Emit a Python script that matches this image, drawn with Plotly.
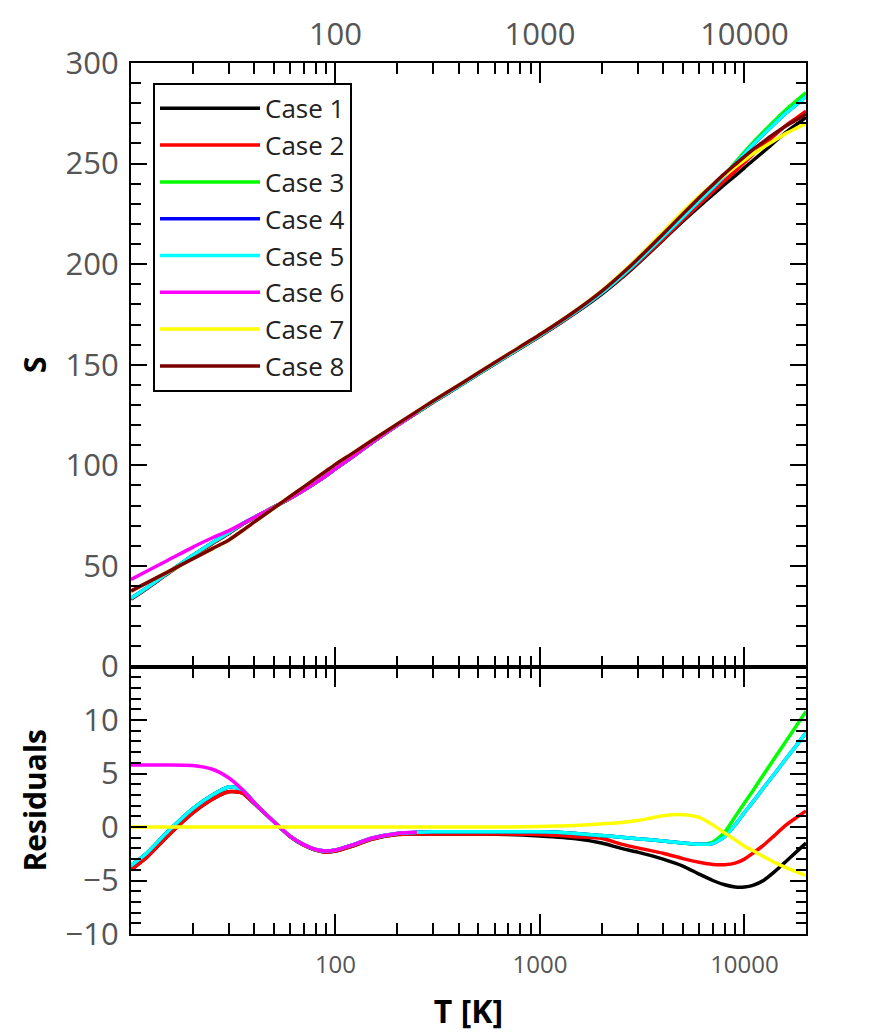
import math
import plotly.graph_objects as go

# ---------------- data ----------------
T = [10, 12, 15, 20, 25, 30, 35, 40, 50, 60, 70, 80, 90, 100, 120, 150, 200, 250,
     300, 400, 500, 700, 1000, 1500, 2000, 2500, 3000, 4000, 5000, 6000, 7000,
     8000, 9000, 10000, 11000, 12500, 14000, 16000, 18000, 20000]

# reference curve (Case 8) entropy S
S_case8 = [37.5, 41.7, 46.8, 53.5, 58.6, 62.8, 67.5, 71.8, 78.8, 84.5, 89.3, 93.5, 97.2, 100.5,
           105.7, 112.2, 120.5, 126.8, 132.0, 139.8, 146.0, 155.3, 165.0, 177.0, 186.5, 195.0,
           202.5, 215.0, 225.0, 233.0, 239.5, 245.0, 249.5, 253.5, 257.0, 261.2, 264.8, 268.8,
           271.8, 274.5]

# residuals of each case relative to Case 8
res_case1 = [-4.0, -2.8, -0.9, 1.3, 2.6, 3.3, 3.2, 2.2, 0.5, -0.9, -1.7, -2.15, -2.35, -2.25,
             -1.8, -1.15, -0.7, -0.65, -0.65, -0.65, -0.65, -0.7, -0.85, -1.1, -1.5, -2.0,
             -2.35, -3.0, -3.65, -4.4, -5.0, -5.4, -5.6, -5.6, -5.45, -4.95, -4.2, -3.2, -2.3, -1.5]
res_case2 = [-4.0, -2.8, -0.9, 1.3, 2.6, 3.3, 3.2, 2.2, 0.5, -0.9, -1.7, -2.15, -2.35, -2.25,
             -1.8, -1.15, -0.7, -0.65, -0.65, -0.65, -0.65, -0.65, -0.7, -0.9, -1.05, -1.6,
             -1.95, -2.45, -2.95, -3.3, -3.5, -3.52, -3.38, -3.0, -2.45, -1.65, -0.8, 0.2, 0.9, 1.5]
res_case3 = [-3.6, -2.4, -0.5, 1.7, 3.0, 3.75, 3.5, 2.3, 0.5, -0.85, -1.65, -2.1, -2.25, -2.15,
             -1.7, -1.05, -0.6, -0.5, -0.45, -0.45, -0.45, -0.45, -0.45, -0.6, -0.8, -0.95,
             -1.1, -1.3, -1.5, -1.62, -1.4, -0.5, 0.95, 2.25, 3.4, 5.0, 6.4, 8.05, 9.5, 10.8]
res_case4 = [-3.6, -2.4, -0.5, 1.7, 3.0, 3.75, 3.5, 2.3, 0.5, -0.85, -1.65, -2.1, -2.25, -2.15,
             -1.7, -1.05, -0.6, -0.5, -0.45, -0.45, -0.45, -0.45, -0.45, -0.6, -0.8, -0.95,
             -1.1, -1.3, -1.5, -1.62, -1.55, -0.9, 0.2, 1.35, 2.35, 3.75, 4.95, 6.4, 7.65, 8.8]
res_case5 = [-3.6, -2.4, -0.5, 1.7, 3.0, 3.75, 3.5, 2.3, 0.5, -0.85, -1.65, -2.1, -2.25, -2.15,
             -1.7, -1.05, -0.6, -0.5, -0.45, -0.45, -0.45, -0.45, -0.45, -0.6, -0.8, -0.95,
             -1.1, -1.3, -1.5, -1.62, -1.55, -0.9, 0.2, 1.35, 2.35, 3.75, 4.95, 6.4, 7.65, 8.8]
res_case6 = [5.8, 5.8, 5.8, 5.75, 5.4, 4.6, 3.5, 2.3, 0.5, -0.85, -1.65, -2.1, -2.25, -2.15,
             -1.7, -1.05, -0.6, -0.5, None, None, None, None, None, None, None, None, None,
             None, None, None, None, None, None, None, None, None, None, None, None, None]
res_case7 = [0.0, 0.0, 0.0, 0.0, 0.0, 0.0, 0.0, 0.0, 0.0, 0.0, 0.0, 0.0, 0.0, 0.0, 0.0, 0.0,
             0.0, 0.0, 0.0, 0.0, 0.0, 0.0, 0.05, 0.15, 0.3, 0.42, 0.6, 1.05, 1.15, 0.9, 0.2,
             -0.55, -1.2, -1.8, -2.2, -2.8, -3.3, -3.8, -4.2, -4.55]

case_names = ["Case 1", "Case 2", "Case 3", "Case 4", "Case 5", "Case 6", "Case 7", "Case 8"]
case_colors = ["#000000", "#ff0000", "#00ff00", "#0000ff", "#00ffff", "#ff00ff", "#ffff00", "#7a0000"]
residuals = [res_case1, res_case2, res_case3, res_case4, res_case5, res_case6, res_case7, None]

x_major = [100, 1000, 10000]
x_minor = [20, 30, 40, 50, 60, 70, 80, 90, 200, 300, 400, 500, 600, 700, 800, 900,
           2000, 3000, 4000, 5000, 6000, 7000, 8000, 9000]
s_ticks = [0, 50, 100, 150, 200, 250, 300]
r_ticks = [-10, -5, 0, 5, 10]

# ---------------- figure ----------------
FONT = "Open Sans"
LW = 3.5
fig = go.Figure()
for name, color, res in zip(case_names, case_colors, residuals):
    if res is None:
        S = S_case8
    else:
        S = [s + r if r is not None else None for s, r in zip(S_case8, res)]
    fig.add_trace(go.Scatter(x=T, y=S, xaxis="x2", yaxis="y", mode="lines", name=name,
                             legendgroup=name,
                             line=dict(color=color, width=LW, shape="spline", smoothing=0.6)))
    if res is not None:
        fig.add_trace(go.Scatter(x=T, y=res, xaxis="x", yaxis="y2", mode="lines", name=name,
                                 legendgroup=name, showlegend=False,
                                 line=dict(color=color, width=LW, shape="spline", smoothing=0.6)))

W, H = 886, 1036
L, R, TOP, B = 131, 80, 60, 100
plot_h = H - TOP - B
split = 269 / plot_h
xr = [1, math.log10(20000)]

tick_color = "#555555"
common_x = dict(type="log", range=xr, tickvals=x_major, ticktext=[str(v) for v in x_major],
                ticks="inside", ticklen=20, tickwidth=2, tickcolor="black",
                showline=True, linecolor="black", linewidth=2, mirror="ticks",
                showgrid=False, zeroline=False,
                minor=dict(tickvals=x_minor, ticks="inside", ticklen=11, tickwidth=1.5,
                           tickcolor="black", showgrid=False))
common_y = dict(ticks="inside", ticklen=16, tickwidth=2, tickcolor="black",
                showline=True, linecolor="black", linewidth=2,
                showgrid=False, zeroline=False)

fig.update_layout(
    width=W, height=H,
    margin=dict(l=L, r=R, t=TOP, b=B, pad=0),
    plot_bgcolor="white", paper_bgcolor="white",
    font=dict(family=FONT, color="#333333"),
    xaxis=dict(**common_x, anchor="y2", domain=[0, 1], side="bottom",
               tickfont=dict(size=24, color=tick_color), ticklabelstandoff=8,
               title=dict(text="<b>T [K]</b>", font=dict(size=32, color="black"), standoff=22)),
    xaxis2=dict(**common_x, anchor="y", matches="x", side="top",
                tickfont=dict(size=31, color=tick_color), ticklabelstandoff=4),
    yaxis=dict(**common_y, domain=[split, 1], range=[0, 300], anchor="x2", side="left",
               mirror="ticks", tickvals=s_ticks,
               minor=dict(dtick=10, ticks="inside", ticklen=10, tickwidth=1.5, tickcolor="black"),
               tickfont=dict(size=31, color=tick_color), ticklabelstandoff=4,
               title=dict(text="<b>S</b>", font=dict(size=30, color="black"), standoff=10)),
    yaxis2=dict(**common_y, domain=[0, split], range=[-10, 15], anchor="x", side="left",
                mirror="ticks", tickvals=r_ticks,
                minor=dict(dtick=1, ticks="inside", ticklen=10, tickwidth=1.5, tickcolor="black"),
                tickfont=dict(size=31, color=tick_color), ticklabelstandoff=4,
                title=dict(text="<b>Residuals</b>", font=dict(size=30, color="black"), standoff=10)),
    yaxis3=dict(overlaying="y", side="right", anchor="x2", range=[0, 300], tickvals=s_ticks,
                ticks="", showline=False, showgrid=False, zeroline=False,
                tickfont=dict(size=31, color=tick_color), ticklabelstandoff=12),
    yaxis4=dict(overlaying="y2", side="right", anchor="x", range=[-10, 15], tickvals=r_ticks,
                ticks="", showline=False, showgrid=False, zeroline=False,
                tickfont=dict(size=31, color=tick_color), ticklabelstandoff=12),
    legend=dict(x=(153 - L) / (W - L - R), y=(H - B - 80) / plot_h, xanchor="left", yanchor="top",
                bordercolor="black", borderwidth=2, bgcolor="white",
                font=dict(size=26, color="#222222", family=FONT), itemwidth=100,
                tracegroupgap=0),
    showlegend=True,
)

fig.write_html("out.html")
